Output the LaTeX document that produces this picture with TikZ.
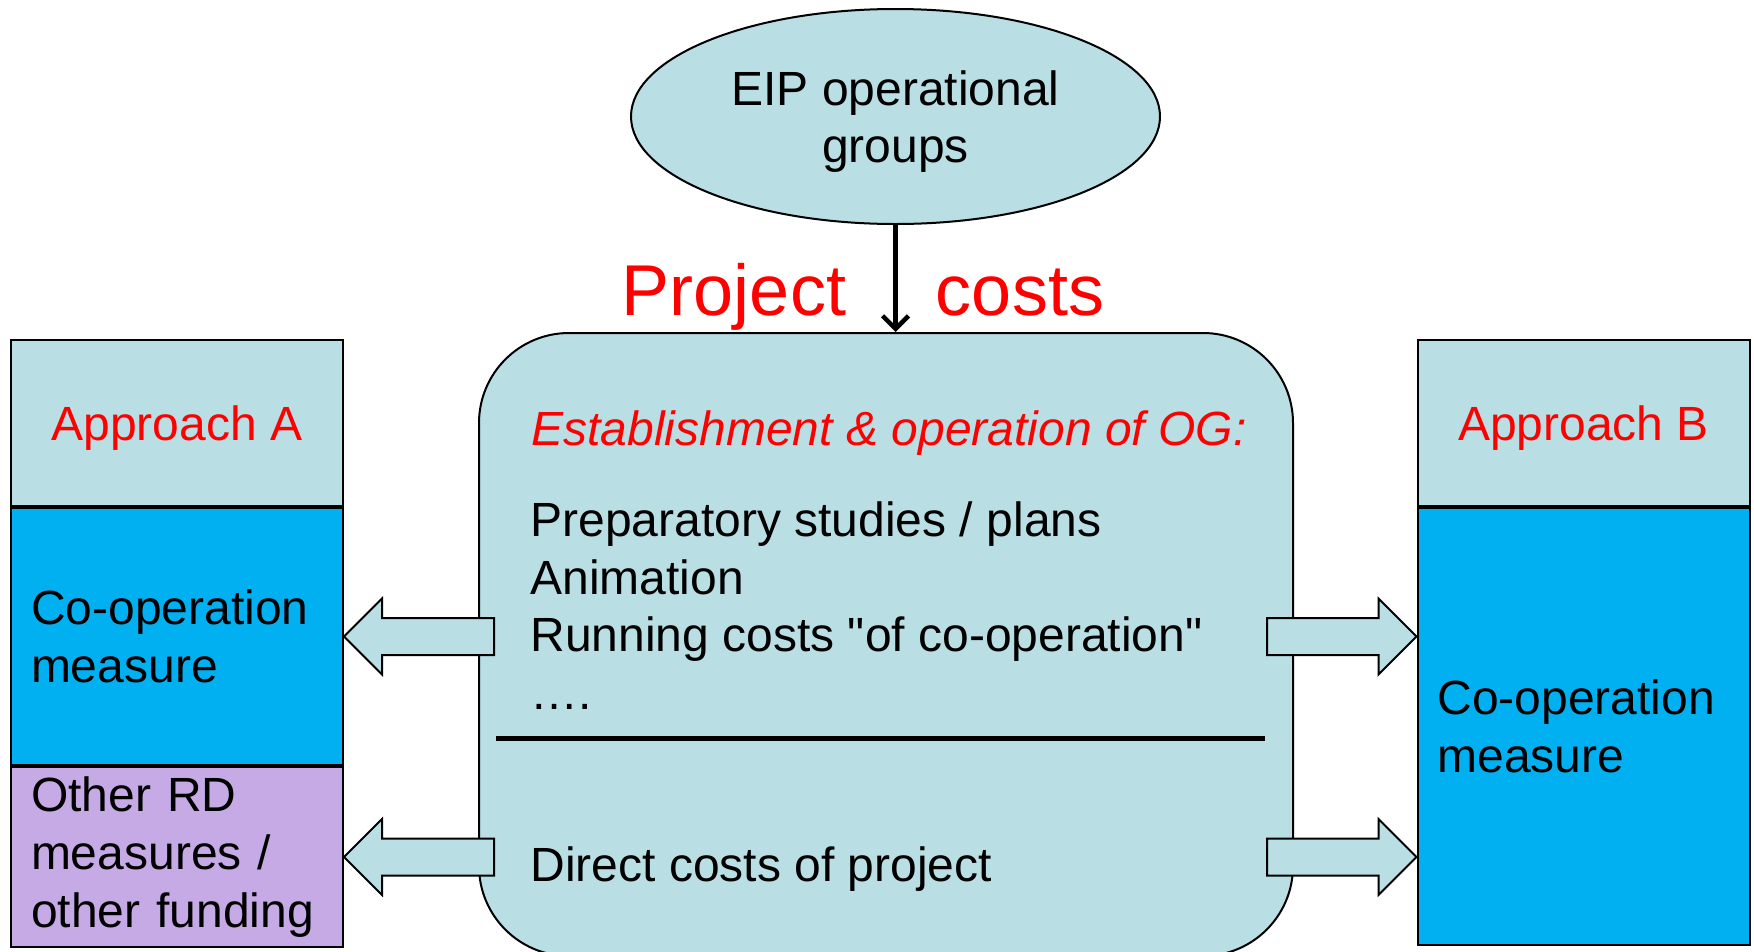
\documentclass[tikz,border=0pt]{standalone}
\usepackage{fontspec}
\setmainfont{Liberation Sans}[Ligatures=TeXOff]
\usetikzlibrary{shapes.geometric}
\usetikzlibrary{arrows.meta}
\usetikzlibrary{positioning}
\usetikzlibrary{calc}
\usepackage{xcolor}
\definecolor{paleblue}{RGB}{185,223,228}
\definecolor{brightblue}{RGB}{0,176,240}
\definecolor{lilac}{RGB}{197,170,230}

\tikzset{
  cell/.style={draw,line width=2pt,inner sep=0pt,minimum width=332pt},
  fat/.style={draw,line width=2pt,fill=paleblue,line join=miter},
  line/.style={anchor=base west}
}
% block arrow: tail, tip, direction (1 right, -1 left)
\newcommand{\fatarrow}[3]{%
  \path[fat] let \p1=(#1), \p2=(#2) in
    (\x1,\y2+18.5pt) -- (\x2-#3*38pt,\y2+18.5pt) -- (\x2-#3*38pt,\y2+38pt) -- (\x2,\y2)
    -- (\x2-#3*38pt,\y2-38pt) -- (\x2-#3*38pt,\y2-18.5pt) -- (\x1,\y2-18.5pt) -- cycle;}

\begin{document}
\begin{tikzpicture}[x=1pt,y=-1pt,font=\fontsize{48}{57.6}\selectfont]
\useasboundingbox (0,0) rectangle (1754,951);

\node [ellipse,draw,line width=2pt,fill=paleblue,minimum width=529pt,minimum height=215pt,align=center,text depth=0pt] (eip) at (895.5,116.5) {EIP operational\\groups};

\node [draw,line width=2pt,fill=paleblue,rounded corners=90pt,minimum width=814pt,minimum height=623pt] (og) at (886,644.5) {};

\draw [line width=4.5pt,-{Straight Barb[length=13pt,width=26pt]}] (eip.south) -- (eip.south |- og.north);
\node [text=red,font=\fontsize{72}{80}\selectfont,anchor=base] (proj) at (734,315) {Project};
\node [text=red,font=\fontsize{72}{80}\selectfont,anchor=base] (costs) at (1020,315) {costs};

% left column
\node [cell,fill=paleblue,minimum height=166pt,text=red,text depth=0pt] (apprA) at (177,423) {Approach A};
\node [cell,fill=brightblue,minimum height=257pt,below=0pt,at=(apprA.south),text width=292pt,inner xsep=20pt,align=left] (coopA) {Co-operation\\measure};
\node [cell,fill=lilac,minimum height=180pt,below=0pt,at=(coopA.south),text width=292pt,inner xsep=20pt,align=left] (other) {Other RD\\measures /\\other funding};

% right column
\node [cell,fill=paleblue,minimum height=166pt,text=red,text depth=0pt] (apprB) at (1583.5,423) {Approach B};
\node [cell,fill=brightblue,minimum height=437pt,below=0pt,at=(apprB.south),text width=292pt,inner xsep=20pt,align=left] (coopB) {Co-operation\\measure};

% inside the OG box
\node [line,text=red,font=\fontsize{48}{57.6}\selectfont\itshape] (estab) at (528,445) {Establishment \& operation of OG:};
\node [line] (prep) at (527,536) {Preparatory studies / plans};
\node [line] (anim) at (527,594) {Animation};
\node [line] (run) at (527,651) {Running costs "of co-operation"};
\node [line] (dots) at (527,709) {….};
\draw [line width=5pt] (496,738) -- (1265,738);
\node [line] (direct) at (527,881) {Direct costs of project};

\fatarrow{$(og.west |- coopA.east)+(16,0)$}{coopA.east}{-1}
\fatarrow{$(og.west |- other.east)+(16,0)$}{other.east}{-1}
\fatarrow{$(og.east |- coopA.east)+(-27,0)$}{coopB.west |- coopA.east}{1}
\fatarrow{$(og.east |- other.east)+(-27,0)$}{coopB.west |- other.east}{1}
\end{tikzpicture}
\end{document}
